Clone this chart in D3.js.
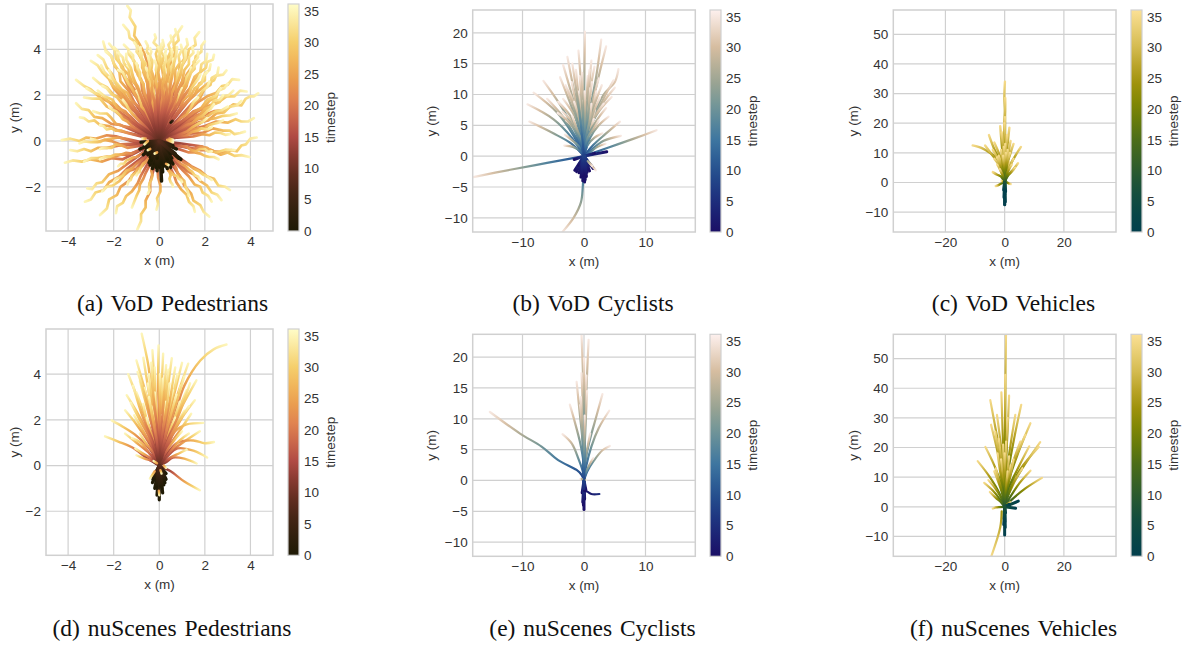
<!DOCTYPE html>
<html>
<head>
<meta charset="utf-8">
<script src="https://cdn.jsdelivr.net/npm/d3@7"></script>
<style>
body { margin: 0; background: #fff; }
text { font-family: "Liberation Sans", Arial, sans-serif; fill: #333; }
.caption { font-family: "Liberation Serif", "Times New Roman", serif; fill: #111; }
</style>
</head>
<body>
<svg id="chart" width="1183" height="648"></svg>
<script>
// every track is x,y,x,y... in metres, starting after the origin, last pair is t=35
var vodPedTracks = [
[-.15,1.2,-.4,2.6,-.45,3.2,-.65,3.8,-.85,4.2,-1.1,4.6,-1.05,5,-1.3,5.4,-1.25,5.7,-1.4,5.9],
[-.2,1.2,-.5,2.6,-.6,3.2,-.95,3.9,-1,4.3,-1.3,4.5,-1.35,4.8,-1.58,5.07],
[-.05,1.3,-.15,2.8,-.05,3.4,-.15,3.8,-.05,4.1,-.25,4.3,-.15,4.5,-.2,4.65],
[.2,1.3,.4,2.8,.55,3.4,.7,3.9,.65,4.2,.85,4.4,.8,4.7,1,5],
[.15,1.2,.3,2.6,.5,3.2,.45,3.7,.65,4.1,.6,4.5,.75,4.7,.7,4.88],
[.3,1.2,.8,2.6,.95,3.2,1.25,3.7,1.3,4,1.6,4.2,1.55,4.5,1.75,4.75],
[.4,1.1,1,2.4,1.2,2.9,1.55,3.4,1.6,3.7,1.85,3.9,1.85,4.15,2,4.35],
[.5,1,1.2,2.1,1.55,2.6,1.8,3,2.05,3.2,2.1,3.45,2.35,3.55,2.4,3.76],
[.6,.9,1.4,1.9,1.8,2.25,2.1,2.5,2.4,2.65,2.5,2.85,2.8,2.9,2.95,3.08],
[.7,.8,1.7,1.7,2.1,1.95,2.5,2.1,2.75,2.4,3,2.45,3.2,2.7,3.5,2.67],
[.8,.6,1.7,1.3,2.2,1.55,2.6,1.7,2.95,1.95,3.3,1.95,3.55,2.2,3.83,2.16],
[.9,.6,1.9,1.1,2.4,1.3,2.9,1.35,3.25,1.6,3.6,1.55,3.8,1.85,4,1.95,4.15,1.95,4.34,2.08],
[1,.4,2,.65,2.5,.85,3,.8,3.35,.95,3.6,.85,3.9,.85,4.15,1],
[.9,.3,1.9,.35,2.35,.55,2.8,.45,3.1,.45,3.3,.3,3.55,.35,3.76,.41],
[.9,-.1,1.9,-.25,2.4,-.45,2.9,-.5,3.15,-.4,3.4,-.45,3.6,-.2,3.8,-.15,4,.1,4.27,.15],
[.9,-.2,1.8,-.4,2.3,-.4,2.7,-.6,3,-.5,3.3,-.65,3.6,-.62,3.95,-.7],
[.7,-.6,1.4,-1.1,1.8,-1.3,2.1,-1.55,2.4,-1.65,2.6,-1.95,2.9,-2,3.1,-2.14],
[.6,-.7,1.2,-1.3,1.5,-1.45,1.8,-1.75,2.1,-1.95,2.3,-2.25,2.55,-2.35,2.73,-2.58],
[.5,-.7,1.05,-1.3,1.3,-1.55,1.55,-1.9,1.8,-2,1.9,-2.25,2.15,-2.4,2.3,-2.65],
[.4,-.8,.95,-1.6,1.1,-1.95,1.4,-2.3,1.5,-2.6,1.8,-2.8,1.95,-3.1,2.19,-3.3],
[.3,-.8,.65,-1.5,.75,-1.8,.95,-2.1,1.2,-2.35,1.3,-2.65,1.5,-2.85,1.56,-3.09],
[-.1,-.9,-.05,-1.6,.05,-1.95,.05,-2.2,-.1,-2.5,-.05,-2.75,-.12,-3],
[-.15,-.9,-.4,-1.8,-.4,-2.2,-.6,-2.6,-.6,-2.9,-.8,-3.2,-.8,-3.5,-.96,-3.86],
[-.4,-.8,-.8,-1.5,-.95,-1.85,-1.2,-2.2,-1.45,-2.4,-1.6,-2.7,-1.85,-2.85,-1.9,-3.15],
[-.5,-.7,-1.1,-1.4,-1.35,-1.75,-1.7,-2,-1.85,-2.35,-2.2,-2.55,-2.3,-2.95,-2.6,-3.23],
[-.6,-.6,-1.4,-1.2,-1.75,-1.55,-2.2,-1.8,-2.45,-2.15,-2.8,-2.25,-3,-2.55,-3.26,-2.65],
[-.7,-.5,-1.4,-1,-1.8,-1.3,-2.2,-1.45,-2.5,-1.8,-2.75,-1.85,-2.95,-2.1,-3.16,-2.07],
[-.8,-.4,-1.6,-.8,-2.1,-.75,-2.5,-.9,-3,-.8,-3.4,-.9,-3.8,-.85,-4.14,-.95],
[-.9,-.1,-1.9,.2,-2.3,.25,-2.8,.1,-3.2,.15,-3.5,0,-3.9,.1,-4.28,.04],
[-.9,-.15,-1.8,-.2,-2.3,-.3,-2.7,-.3,-3,-.45,-3.3,-.35,-3.6,-.45,-3.9,-.4],
[-.8,.3,-1.7,.7,-2.1,.75,-2.5,1,-2.85,1.05,-3.1,1.35,-3.4,1.4,-3.65,1.65],
[-.9,.25,-1.8,.45,-2.2,.65,-2.6,.7,-2.85,.9,-3.1,.85,-3.3,1,-3.48,1.03],
[-.7,.5,-1.5,1.1,-1.85,1.35,-2.2,1.7,-2.6,1.9,-3,2.25,-3.3,2.4,-3.65,2.67],
[-.6,.7,-1.3,1.6,-1.65,1.9,-2,2.3,-2.2,2.7,-2.5,3,-2.7,3.3,-3,3.5],
[-.5,.9,-1,1.9,-1.35,2.35,-1.6,2.9,-1.95,3.25,-2.1,3.7,-2.35,3.95,-2.46,4.34],
[-.45,.9,-.95,1.9,-1.2,2.4,-1.5,2.8,-1.6,3.25,-1.9,3.6,-1.95,3.95,-2.2,4.25],
[-.5,.8,-1.1,1.7,-1.35,2.2,-1.7,2.6,-1.75,3,-2,3.4,-2.1,3.7,-2.35,3.9],
[-.55,.7,-1.2,1.6,-1.6,2,-1.9,2.5,-2.05,2.9,-2.3,3.2,-2.45,3.55,-2.7,3.75],
[-.55,.6,-1.1,1.4,-1.5,1.8,-1.8,2.2,-2.05,2.45,-2.2,2.8,-2.4,3,-2.55,3.3],
[-.4,.9,-.9,2,-1.2,2.4,-1.35,2.9,-1.65,3.2,-1.8,3.6,-1.8,3.9,-2,4.1],
[-.35,.9,-.85,1.9,-1,2.4,-1.3,2.8,-1.35,3.15,-1.55,3.4,-1.6,3.65,-1.8,3.85],
[-.3,1,-.75,2.2,-.8,2.7,-1.05,3.1,-1.1,3.5,-1.35,3.8,-1.35,4,-1.55,4.2],
[-.25,1,-.65,2,-.7,2.5,-.95,2.9,-.95,3.3,-1.15,3.5,-1.15,3.75,-1.3,3.9],
[-.2,1.1,-.5,2.3,-.55,2.8,-.75,3.2,-.75,3.6,-1,3.9,-.95,4.1,-1.1,4.3],
[-.2,1,-.4,2.1,-.55,2.6,-.65,3.1,-.6,3.4,-.8,3.6,-.75,3.8,-.85,4],
[-.1,1.1,-.35,2.3,-.3,2.9,-.45,3.3,-.4,3.7,-.55,3.9,-.5,4.15,-.6,4.35],
[-.1,1,-.25,2.1,-.2,2.6,-.35,3.1,-.3,3.5,-.42,3.7,-.35,3.9,-.4,4.05],
[0,1.1,-.1,2.2,.02,2.6,-.1,3,.05,3.35,-.05,3.6,.05,3.85,-.05,4.1],
[.05,1.1,.05,2.3,.18,2.8,.1,3.3,.2,3.7,.08,3.9,.2,4.15,.15,4.4],
[.1,1,.15,2.1,.1,2.55,.25,3,.2,3.35,.35,3.55,.25,3.8,.3,4],
[.1,1.2,.25,2.5,.4,3,.3,3.5,.5,3.9,.4,4.2,.55,4.4,.5,4.6],
[.25,1,.5,2.1,.7,2.6,.7,3.1,.9,3.4,.85,3.7,1,4,.95,4.2],
[.25,1.1,.6,2.3,.85,2.8,.9,3.3,1.1,3.6,1.05,3.9,1.25,4.2,1.2,4.45],
[.3,1,.75,2.1,1,2.6,1.1,3.1,1.3,3.35,1.3,3.65,1.5,3.85,1.45,4.1],
[.4,.9,.9,1.9,1.2,2.4,1.3,2.9,1.55,3.15,1.5,3.45,1.7,3.65,1.7,3.9],
[.45,.9,1,1.9,1.35,2.3,1.55,2.8,1.8,3,1.85,3.35,2.05,3.5,2.1,3.8],
[.5,.8,1.2,1.7,1.55,2,1.75,2.5,2,2.65,2,2.95,2.2,3.1,2.25,3.35],
[.6,.7,1.4,1.6,1.8,1.9,2,2.3,2.25,2.45,2.3,2.75,2.55,2.9,2.6,3.2],
[.7,.6,1.5,1.3,1.95,1.45,2.2,1.75,2.5,1.9,2.6,2.2,2.85,2.3,3,2.5],
[.8,.5,1.6,1.1,2.05,1.3,2.4,1.6,2.65,1.7,2.8,1.95,3.05,2,3.25,2.2],
[.7,.4,1.4,.95,1.75,1.1,2,1.4,2.25,1.5,2.4,1.75,2.65,1.8,2.8,2],
[.8,.4,1.7,.8,2.15,.9,2.5,1.2,2.85,1.25,3.1,1.5,3.4,1.55,3.6,1.75],
[.75,.3,1.6,.65,1.9,.85,2.2,.95,2.5,1,2.8,1.1,3.1,1.12,3.4,1.2],
[.7,.35,1.4,.75,1.7,.95,2,1,2.3,1.2,2.5,1.3,2.75,1.35,3,1.5],
[.7,.25,1.35,.45,1.7,.55,2,.55,2.2,.7,2.4,.75,2.6,.8,2.8,.9],
[.8,.15,1.5,.2,1.9,.3,2.2,.25,2.45,.37,2.7,.35,2.9,.27,3.1,.3],
[.6,.35,1.2,.7,1.45,.8,1.7,1,1.9,1.1,2.1,1.3,2.25,1.4,2.4,1.6],
[.6,.15,1.2,.25,1.45,.4,1.7,.45,1.85,.55,2,.5,2.15,.52,2.3,.6],
[-.7,.4,-1.4,.95,-1.7,1.1,-2,1.35,-2.3,1.5,-2.6,1.85,-2.95,1.85,-3.3,1.9],
[-.65,.45,-1.3,1.1,-1.6,1.3,-1.9,1.6,-2.2,1.7,-2.5,2,-2.85,2.1,-3.2,2.3],
[-.5,.6,-1.1,1.3,-1.4,1.55,-1.7,1.9,-2,2,-2.3,2.35,-2.6,2.5,-2.9,2.75],
[-.5,.55,-1.1,1.1,-1.35,1.4,-1.6,1.6,-1.85,1.9,-2.1,2.05,-2.3,2.3,-2.5,2.4],
[-.4,.7,-.9,1.5,-1.2,1.75,-1.4,2.1,-1.65,2.25,-1.85,2.5,-2,2.65,-2.2,2.8],
[-.35,.7,-.8,1.6,-1,1.9,-1.2,2.3,-1.35,2.5,-1.5,2.8,-1.6,3,-1.8,3.1],
[-.3,.8,-.65,1.7,-.8,2,-.95,2.4,-1.1,2.6,-1.2,2.9,-1.25,3.15,-1.4,3.3],
[-.2,.85,-.45,1.7,-.65,2.1,-.7,2.5,-.85,2.7,-.85,3,-.95,3.2,-1,3.4],
[-.1,.8,-.3,1.6,-.28,2,-.4,2.4,-.4,2.6,-.5,2.8,-.5,3,-.6,3.2],
[-.05,.9,-.1,1.8,-.05,2.2,-.15,2.6,-.08,2.85,-.15,3.1,-.12,3.3,-.2,3.5],
[.05,.8,.1,1.7,.2,2.1,.15,2.5,.25,2.7,.2,2.9,.28,3.1,.2,3.3],
[.15,.9,.3,1.8,.38,2.25,.45,2.7,.55,2.95,.5,3.2,.62,3.4,.6,3.6],
[.2,.85,.5,1.7,.55,2.1,.75,2.5,.78,2.75,.85,3,.98,3.2,1,3.4],
[.3,.8,.65,1.6,.9,2,1,2.3,1.15,2.5,1.2,2.8,1.35,3,1.4,3.2],
[.4,.7,.9,1.4,1.05,1.75,1.3,2,1.4,2.3,1.55,2.5,1.7,2.7,1.8,2.9],
[.55,.6,1.1,1.2,1.35,1.4,1.6,1.7,1.75,1.95,1.9,2.2,2.1,2.35,2.2,2.6],
[-.7,.3,-1.3,.6,-1.6,.65,-1.9,.75,-2.1,1,-2.3,1.2,-2.6,1.2,-2.9,1.3],
[-.8,.2,-1.4,.35,-1.65,.45,-1.9,.45,-2.1,.55,-2.3,.5,-2.45,.65,-2.6,.7],
[-.65,.3,-1.2,.65,-1.4,.85,-1.6,.95,-1.75,1.15,-1.9,1.3,-2.05,1.35,-2.2,1.5],
[-.8,-.05,-1.5,.1,-1.8,.15,-2.1,.1,-2.4,.05,-2.6,-.05,-2.8,.05,-3,.1],
[-.9,-.1,-1.7,-.15,-2.05,-.02,-2.4,.05,-2.7,-.05,-3,-.05,-3.3,-.02,-3.5,-.1],
[-.8,-.2,-1.4,-.3,-1.65,-.2,-1.9,-.15,-2.1,-.3,-2.3,-.3,-2.45,-.3,-2.6,-.35],
[.8,-.2,1.5,-.35,1.8,-.25,2.1,-.3,2.3,-.45,2.5,-.5,2.9,-.38,3.3,-.4],
[.7,-.3,1.3,-.5,1.55,-.5,1.8,-.55,2,-.65,2.2,-.7,2.4,-.7,2.6,-.8],
[.7,-.2,1.2,-.25,1.4,-.4,1.6,-.45,1.8,-.35,2,-.35,2.15,-.47,2.3,-.45],
[.6,-.6,1.1,-.95,1.3,-1.05,1.5,-1.2,1.7,-1.3,1.9,-1.45,2.1,-1.55,2.3,-1.7],
[.5,-.6,.95,-1,1.15,-1.1,1.3,-1.25,1.45,-1.35,1.55,-1.5,1.7,-1.55,1.8,-1.7],
[.4,-.6,.75,-1.2,.8,-1.4,.95,-1.6,1.1,-1.75,1.15,-2,1.25,-2.2,1.3,-2.4],
[.2,-.8,.4,-1.3,.5,-1.35,.65,-1.5,.78,-1.52,.85,-1.65,.95,-1.7,1,-1.8],
[.2,-.8,.35,-1.2,.45,-1.35,.5,-1.5,.45,-1.65,.5,-1.8,.58,-1.9,.6,-2],
[-.2,-.8,-.35,-1.3,-.3,-1.5,-.35,-1.7,-.43,-1.85,-.45,-2,-.42,-2.15,-.5,-2.3],
[-.3,-.8,-.6,-1.4,-.7,-1.65,-.85,-1.9,-.88,-2.15,-1,-2.4,-1.1,-2.65,-1.2,-2.9],
[-.55,-.7,-1,-1.2,-1.3,-1.3,-1.55,-1.5,-1.75,-1.75,-2.05,-1.95,-2.3,-2,-2.5,-2.2],
[-.5,-.6,-1,-1,-1.2,-1.2,-1.45,-1.3,-1.6,-1.5,-1.75,-1.6,-1.9,-1.65,-2,-1.8],
[-.4,-.7,-.75,-1.1,-.95,-1.22,-1.05,-1.4,-1.2,-1.5,-1.25,-1.7,-1.35,-1.75,-1.4,-1.9],
[-.35,-.6,-.6,-.9,-.72,-1,-.8,-1.15,-.85,-1.25,-.85,-1.35,-.95,-1.4,-1,-1.5],
[-.7,-.35,-1.4,-.6,-1.7,-.6,-2,-.7,-2.3,-.68,-2.7,-.75,-3,-.75,-3.3,-.9],
[-.7,-.3,-1.2,-.55,-1.45,-.52,-1.7,-.6,-1.95,-.6,-2.2,-.7,-2.4,-.7,-2.6,-.8],
[-.6,-.45,-1,-.7,-1.15,-.72,-1.3,-.8,-1.45,-.85,-1.55,-1,-1.7,-1,-1.8,-1.1],
[-.1,.9,-.3,1.6,-.22,1.9,-.25,2.2,-.33,2.4,-.3,2.6],
[.1,.8,.25,1.4,.33,1.7,.4,2,.32,2.25,.35,2.5],
[.3,.7,.55,1.3,.75,1.5,.85,1.8,.88,2.05,1,2.3],
[-.3,.7,-.6,1.3,-.78,1.5,-.85,1.8,-.9,2,-1,2.2],
[-.5,.5,-.95,.95,-1.15,1.15,-1.35,1.4,-1.45,1.6,-1.6,1.8],
[.5,.5,.95,1,1.2,1.15,1.35,1.4,1.5,1.7,1.7,1.9],
[.7,.2,1.2,.4,1.45,.6,1.7,.75,1.9,.83,2.1,1],
[-.05,1,-.1,2,.05,2.5,-.05,3,.08,3.5,0,3.9,.1,4.25],
[.2,1,.45,2,.5,2.5,.6,3,.65,3.4,.75,3.8,.78,4.1],
[-.25,1,-.5,2,-.5,2.5,-.7,3,-.7,3.4,-.85,3.8,-.82,4.1],
[.3,1,.7,1.9,.75,2.4,.95,2.9,1,3.3,1.15,3.6,1.15,3.95],
[-.35,.9,-.75,1.8,-.95,2.3,-1.15,2.8,-1.25,3.2,-1.45,3.55,-1.45,3.8],
[.35,.9,.85,1.7,1.05,2.2,1.25,2.6,1.4,3,1.55,3.3,1.75,3.5],
[.12,1,.35,2,.3,2.5,.4,3,.4,3.4,.55,3.7,.55,4],
[.5,.8,1,1.5,1.3,1.8,1.55,2.3,1.85,2.5,1.95,2.85,2.1,3],
[-.5,.7,-1,1.3,-1.3,1.7,-1.55,2.1,-1.8,2.35,-2.05,2.75,-2.2,3.1],
[-.15,.9,-.2,1.7,-.32,2.15,-.3,2.6,-.45,3,-.4,3.3,-.5,3.7],
[.05,.9,.2,1.8,.12,2.3,.25,2.8,.18,3.2,.3,3.5,.25,3.8],
[.6,.6,1.2,1,1.5,1.25,1.85,1.45,2.1,1.8,2.45,1.95,2.7,2.3],
[-.6,.5,-1.2,.95,-1.5,1.3,-1.85,1.45,-2.05,1.8,-2.4,1.95,-2.7,2.2]
];
var vodPedPasts = [
[-.8,-.05],[-.85,-.35],[-.6,-.45],[-.7,-.6],[-.45,-.95],[-.3,-1.2],[-.1,-1.3],[.1,-1.75],[.15,-1.35],[.35,-1.2],[.5,-1.15],[.6,-1],[.85,-.75],[.7,-.55],[.5,-.9],[.2,-1.1],[-.2,-1],[-.4,-.7],[.4,-.5],[.6,-.2],[-.5,-.2],[-.25,-.5],[0,-.9],[.2,-.7],
[-.4,-1.05],[-.35,-.85],[-.15,-1.15],[.02,-1.15],[.3,-1.05],[.45,-1],[.55,-.75],[.35,-.8],[.1,-1],[-.1,-.75],[-.3,-.3],[.3,-.25],[.5,-.55],[-.5,-.6],[-.55,-.35],[-.65,-.2],[.75,-.35],[.95,-.8]
];
var vodPedSlow = [
[-.6,.1,-.75,.1],[-.5,0,-.65,-.15],[.45,.1,.6,.05],[.35,.05,.6,-.05],[-.4,-.35,-.5,-.4],[.3,-1,.4,-1.05],[-.1,-.5,-.2,-.55]
];
var vodPedSpecks = [[.5,.8,.58,.88]];

var vodCycTracks = [
[0,5,.05,12,.15,20.2],[.7,6,2,13,2.8,18.9],[.8,6,2.4,13,3.6,17.8],[-.2,6,-.5,12,-.9,17.1],[-.6,6,-1.7,11,-2.7,16.1],[-.7,5,-2,10,-3.4,14.8],
[1,5,3.2,10,5,12,5.6,14.1],[-1,5,-2.4,9,-3.9,12.8],[-1.4,4,-4,8.5,-6.6,12.2],[1,5,3,9,4.8,12.3],[1,4.5,3,8.5,5,11.1],[-1.8,3.5,-4.5,7.2,-8.2,10.3],
[.9,4.5,2.6,7.5,4.5,9.6],[-2,3,-5,6,-9.2,8.4],[-1.4,3.2,-3.5,6.5,-6,9.3],[1,3,2.4,5,4,6.4],[-2,2,-5,3.7,-8.9,5.6],[1.5,1.8,3.5,3.6,5.85,5.6],
[1.3,1.1,3.2,2.5,6,3.3],[4,1.4,8,2.8,11.8,4.2],[-6,-1.1,-12,-2.2,-18,-3.4],[-.2,-5,-.5,-7.5,-1.7,-10,-3.6,-12.4],
[.3,6,.8,11,1.2,15.5],[-.2,5,-.9,10,-1.3,14],[.4,5,.9,10,1.7,14.5],[-.1,5,-.2,10,-.3,13.5],[.5,5,1.4,9,2.4,12.6],[.1,4.5,.4,9,.6,13],[-.5,4,-1.2,8,-2,12],
[-.4,4,-1,7,-2.6,10.8],[.5,4.5,1.3,7.5,2,10.5],[-.5,4,-1.8,7,-3.4,9.3],[.2,4,.6,7.5,.9,11],[-.1,4,-.5,7.5,-1,10.5],[.6,4,1.8,6.5,3.2,8.5],[-.6,3.2,-1.9,5.5,-3.5,7.2],
[.2,3,.5,6,.4,9],[-.2,3,-.3,6,-.4,9],[.5,3,1.2,5.5,1.8,7.5],[-.5,2.5,-1.6,4.5,-2.9,5.8],[.4,2.5,1.1,4.5,1.6,6],[-.2,2.5,-.6,4.5,-.9,6.5],[.6,1.8,1.7,3,3,3.7],
[-.5,1.2,-1.6,2.3,-3.1,3.5],[-.6,.8,-1.8,1.5,-3.2,1.7],[.9,.6,2.2,1.5,3.5,2],[.1,1.5,.3,2.7,.6,3],[-.1,1.5,-.3,2.7,-.4,3.2],
[.2,5,.6,10,.9,14],[-.1,5,-.4,9,-.7,13],[.3,4,.8,8,1.3,12],[-.3,4,-.8,8,-1.5,12.5],[.6,4,1.6,8,2.9,11.5],[-.6,4,-1.7,8,-3,11.5],[.5,4,1.5,7,2.6,9.5],[-.8,3.5,-2.2,6.5,-4.2,8.8],[.8,3.5,2.2,6,3.6,7.8],[-.9,3,-2.4,5.5,-4.3,7],[.1,3.5,.2,7,.1,10.5],[-.3,3.5,-.9,6.5,-1.6,8.8],[.3,3,.9,5.5,1.2,8.5],[-.4,2.5,-1.2,4.5,-1.9,6.5],[.6,3,1.6,4.5,2.4,5.8],[-.5,5,-1.3,11,-1.9,15]
];
var vodCycPasts = [
[3.7,.7],[1.7,.45],[-1.6,-.55],[-1.5,-2.3],[-1.2,-2.5],[-.9,-1.5],[-.6,-2],[.6,-1.7],[1,-1.5],[1.5,-2],[.5,-2.6],[.1,-4.2],[-.2,-4],[.2,-3.8],[-.1,-3.2],[.2,-2.9],[-.4,-2.8],[-.3,-1.2],[.3,-1.2],[-.8,-2.7],[.9,-2.4],[-.5,-3.4],[.4,-3.3]
];
var vodCycSlow = [[.8,-1,1.9,-2.3],[.6,-.8,1.3,-1.6]];

var vodVehTracks = [
[.1,12,.1,24,-.1,29,.1,34],[.1,10,-.1,20,.2,25,.2,28.5],[.1,8,-.1,16,.1,22],[-.1,8,.1,15,-.1,20],[-.4,6,-5,10,-7.5,11.5,-10.8,12.5],[-1,6,-3.6,11.5,-5.3,16],
[-.4,7,-1,13,-1.5,19],[.4,7,1,13,1.6,18.5],[.8,6,2,10,3,13],[1,4,3,8,5.5,12],[-1,5,-4,9,-6.6,12.5],[-.6,6,-2,10,-3.5,13.5],[-.8,5,-2.3,8,-4,11],
[-.7,3.5,-2,6,-3.5,8],[-1.2,2,-2.5,2.6,-4,3.5],[-.6,-.1,-1.8,-.7,-3,-1.2],[1.2,2.5,3,4.5,4.5,6.5],[.8,3.5,2,6,3,8],[.7,2,2.2,3.5,3.5,5],[-.2,8,-.6,13,-1,17],
[.2,7,.5,12,.8,16],[.6,6,1.3,10,2,14],[-.6,4,-1.3,7,-2,9],[-.7,2.5,-1.6,4.5,-2.5,6],[.5,3,1,5,1.5,7],[.1,5,.2,9,.2,13],[-.1,5,-.2,9,-.3,12],[.4,.2,1.2,-.2,2,-.5],[-.4,.2,-.8,.5,-1,.5],
[.3,4,.8,7,1,11],[-.3,4,-.7,7,-1.2,11],[.4,4,1,7,1.8,10],[-.5,3,-1.5,6,-2.6,8.5],[.1,4,.2,7,.4,10],[-.1,4,-.3,6,-.5,9],[.6,2.5,1.5,4.5,2.4,6],[-.5,2,-1,3.2,-1.6,4.5]
];
var vodVehPasts = [[0,-7.5],[.2,-6.5],[-.2,-5],[0,-4],[.3,-3],[-.3,-2.5]];

var nuPedTracks = [
[-.1,1.5,-.4,3.8,-.5,4.5,-.77,5.77],[.3,1,.7,2.3,1.1,3.5,1.8,4.6,2.4,5.1,2.95,5.3],[0,1.8,-.05,3.5,-.03,5.26],[.05,1.6,.1,3.3,.17,4.9],[.15,1.5,.35,3.2,.55,4.7],
[-.2,1.6,-.6,3.2,-1,4.6],[-.15,1.6,-.45,3.2,-.7,4.72],[-.1,1.7,-.2,3.4,-.3,5.05],[.25,1.5,.65,3.1,1,4.5],[.3,1.5,.8,3.1,1.27,4.46],[-.3,1.3,-.85,2.7,-1.36,4],
[.35,1.3,1,2.6,1.63,3.73],[-.35,1.1,-.9,2.2,-1.43,3.08],[.4,1,1,2.1,1.56,2.86],[-.4,.9,-1,1.8,-1.5,2.42],[.4,.8,.95,1.6,1.4,2.27],[.35,.8,.7,1.5,1.2,1.8,1.93,1.87],
[-.4,.7,-1,1.3,-1.6,1.7,-2.09,1.98],[-.5,.3,-1.2,.8,-1.8,1.05,-2.38,1.28],[.5,.6,1.1,1.05,1.78,1.5],[.4,.6,.8,1,1.5,1.1,2,.98,2.4,1.03],[.35,.4,.8,.75,1.5,.65,2.1,.35],
[.3,.15,.6,.35,1.1,.3,1.64,.09],[.2,-.1,.5,-.25,1.1,-.7,1.78,-1.08],[-.4,.5,-1,1,-1.5,1.4],[-.3,.2,-.65,.3,-1,.45],
[.1,1.4,.25,2.8,.4,4.2],[-.05,1.4,-.15,2.8,-.2,4.3],[-.1,1.3,-.3,2.7,-.45,4],[.2,1.3,.5,2.6,.8,4],[-.2,1.2,-.5,2.4,-.85,3.7],[.25,1.2,.6,2.3,.95,3.5],
[.05,1.2,.1,2.5,.15,3.8],[-.15,1.2,-.4,2.3,-.65,3.4],[.3,1.1,.75,2.2,1.2,3.3],[-.25,1.1,-.6,2.1,-1,3.2],[.15,1.1,.35,2.1,.6,3.3],[-.05,1.1,-.1,2.1,-.2,3.2],
[.25,1,.6,1.9,.9,2.8],[-.2,.95,-.5,1.8,-.7,2.7],[.1,1,.2,1.9,.3,2.8],[-.1,.95,-.2,1.8,-.35,2.6],[.3,.9,.7,1.7,1.1,2.4],[-.3,.8,-.7,1.5,-1.1,2.2],
[.2,.8,.45,1.5,.7,2.1],[-.15,.8,-.4,1.5,-.55,2.1],[.05,.8,.1,1.5,.1,2.2],[.3,.6,.65,1.1,1,1.5],[-.3,.6,-.6,1,-.85,1.4],[.4,.3,.9,.55,1.2,.7],[-.35,.3,-.75,.55,-1.05,.75],
[.08,1.5,.2,3,.3,4.4],[-.08,1.5,-.25,3,-.35,4.5],[.18,1.4,.45,2.8,.7,4.3],[-.22,1.4,-.55,2.8,-.95,4.1],[.28,1.3,.7,2.6,1.1,3.9],[.02,1.4,.02,2.8,.03,4],[-.12,1.3,-.35,2.4,-.5,3.6],[.12,1.3,.3,2.4,.45,3.6],[.35,1.1,.85,2.2,1.35,3.6],[-.3,1.1,-.75,2.2,-1.15,3.5],[.22,1.1,.5,2.2,.75,3.1],[-.12,1.1,-.3,2.1,-.45,3],[.35,1,.85,1.9,1.3,2.6],[-.32,1,-.8,1.9,-1.25,2.75],[.4,.5,.9,1.1,1.3,1.4],[-.4,.5,-.8,1,-1.2,1.2]
];
var nuPedPasts = [
[0,-1.5],[-.3,-.75],[.3,-.6],[-.2,-1],[.15,-1.2],[.05,-.9],[-.25,-.5],[.3,-.35],[-.1,-1.3],[.2,-.85],[-.15,-.7],[.1,-.5],[-.28,-.6],[.25,-.75],[-.12,-.95],[.12,-1]
];
var nuPedSlow = [[-.2,-.25,-.41,-.57],[.05,-.2,.1,-.35],[-.1,.1,-.25,.2],[.2,0,.3,-.1],[-.02,-1.1,0,-1.3]];

var nuCycTracks = [
[-.4,.9,-1.2,1.7,-4.2,3.3,-6.9,5.5,-10.4,7.6,-15.3,11.1],[.5,1.4,1.6,3.2,3,4.9,4.2,5.6],[.4,2.5,1.2,5.5,2.4,8.5,4.1,11.3],[.2,3,.8,6,1.9,10,3,14],
[-.1,3,-.6,6,-1.5,9.5,-2.3,12.3],[-.2,1.5,-.9,3.5,-2,6,-3.5,7.5],[-.2,6,-.7,11,-1.2,16],[0,7,-.1,15,-.4,23.6],[.1,7,.4,15,.75,22.8],[0,6,.2,12,.4,17],
[-.1,6,-.2,12,-.4,17.4],[0,6,0,13,0,19.8],[-.1,4,-.3,8,-.6,12.2],[.2,3,.6,5.5,1,7.6],[.4,1.5,.9,2.6,1.5,3.6],[.1,5,.3,10,.5,14.5],[-.1,5,-.3,9,-.5,13.5],[0,4,.1,7,.1,10.5]
];
var nuCycPasts = [[0,-4.7],[-.2,-3.5],[.1,-3],[-.3,-2],[.3,-1.5],[-.1,-4]];
var nuCycSlow = [[-.3,.2,-.6,.2],[.3,.1,.4,.1]];
var nuCycBranch = [[0,-1.7,.5,-1.8,1.2,-2.2,2.5,-2.2]];

var nuVehTracks = [
[.1,15,.2,35,.45,58],[.1,12,.15,30,.2,44.5],[-.5,12,-3,26,-4.85,36],[-.2,12,-.7,26,-1.1,38.6],[.3,12,1,26,1.5,37.5],[.9,10,3.2,23,5.6,34.4],[1.2,8,4.5,18,8.7,28.2],
[-.5,9,-2.5,19,-4.6,27.7],[2,6,6,13,12,21.8],[-1,7,-3.5,14,-6.5,20.2],[-1.5,4,-5,10,-9.1,15.4],[1.6,5.5,5.5,13,11.5,20.2],[1.2,6,4.5,13,8.3,20.4],[2,3.5,5,8,8.7,12.2],
[2.5,2.5,7,6.2,12.6,9.75],[-1.6,2.5,-4,5.5,-6.9,8.1],[-.3,10,-1.3,21,-2.6,31],[.2,10,.6,20,1,30],[.5,10,2,21,3.6,31],[-.5,8,-1.8,17,-3.2,25.4],[1,8,3.5,16,7,24.3],[.8,7,2.8,15,5.3,22],
[-.3,8,-1,15,-2,23],[-.7,4,-2,8,-3.5,12],[-1.1,3,-3,6,-5.5,9],[-1.2,1.5,-3,3,-5,5],[.5,5,1.2,9,2,14],[1,3.5,2.4,6.5,4,10],[1.2,4.5,3.5,9,6,13],[-3,-.2,-3.5,-.4,-4,-.6],[.7,.8,1.4,1.2,2,1.5],
[-.1,7,-.3,14,-.5,21],[.1,7,.3,14,.5,22],[0,6,0,12,0,18],[-.2,5,-.7,10,-1.2,16],[.3,5,.9,11,1.5,17],[.6,5,1.8,10,3,16],[-.4,5,-1.4,11,-2.4,18],[-.6,4,-1.8,8.5,-3,13],[.2,4,.6,8,1,12]
];
var nuVehPasts = [[4.6,1.9],[3.7,-.5],[0,-9.5],[.2,-7],[-.2,-4],[.3,-2],[-.3,-6],[1.5,.8],[.1,-5]];
var nuVehSlow = [[-1,-1.5,-1.5,-7,-4.5,-16.7]];

// colormaps, low to high timestep
var lajolla = ["#1e1a05", "#3c2413", "#6b3024", "#b04a44", "#dc7a50", "#eea64f", "#f5cf6c", "#fffdc8"];
var lapaz = ["#1b0f66", "#1d2d7c", "#24508f", "#3e76a0", "#6d9498", "#a3a792", "#d6bda0", "#fdf0ee"];
var bamako = ["#023f4d", "#0d4a42", "#2b5a2e", "#4c6d18", "#778402", "#a8950f", "#d4bb50", "#fbe095"];
var cmapKnots = [0, 5, 10, 15, 20, 25, 30, 36];

var xTicksPed = [-4, -2, 0, 2, 4], yTicksPed = [-2, 0, 2, 4];
var xTicksCyc = [-10, 0, 10], yTicksCyc = [-10, -5, 0, 5, 10, 15, 20];
var xTicksVeh = [-20, 0, 20], yTicksVeh = [-10, 0, 10, 20, 30, 40, 50];
var barTicks = [0, 5, 10, 15, 20, 25, 30, 35];

var captions = ["(a) VoD Pedestrians", "(b) VoD Cyclists", "(c) VoD Vehicles", "(d) nuScenes Pedestrians", "(e) nuScenes Cyclists", "(f) nuScenes Vehicles"];

var svg = d3.select("#chart");
var defs = svg.append("defs");
var gradCount = 0;

function makeGradient(color, t0, t1, a, b) {
    // gradient along the chord of the track
    var id = "g" + (gradCount++);
    var g = defs.append("linearGradient").attr("id", id).attr("gradientUnits", "userSpaceOnUse")
        .attr("x1", a[0]).attr("y1", a[1]).attr("x2", b[0]).attr("y2", b[1]);
    for (var i = 0; i <= 6; i++) {
        g.append("stop").attr("offset", i / 6).attr("stop-color", color(t0 + (t1 - t0) * i / 6));
    }
    return "url(#" + id + ")";
}

function pairs(flat) {
    var out = [];
    for (var i = 0; i < flat.length; i += 2) out.push([flat[i], flat[i + 1]]);
    return out;
}

function drawPanel(p) {
    var x = d3.scaleLinear().domain(p.xlim).range([p.left, p.right]);
    var y = d3.scaleLinear().domain(p.ylim).range([p.bottom, p.top]);
    var color = d3.scaleLinear().domain(cmapKnots).range(p.cmap).interpolate(d3.interpolateRgb);
    var g = svg.append("g");

    // grid
    g.selectAll(".gx").data(p.xticks).enter().append("line")
        .attr("x1", x).attr("x2", x).attr("y1", p.top).attr("y2", p.bottom)
        .attr("stroke", "#d0d0d0").attr("stroke-width", 1.2);
    g.selectAll(".gy").data(p.yticks).enter().append("line")
        .attr("x1", p.left).attr("x2", p.right).attr("y1", y).attr("y2", y)
        .attr("stroke", "#d0d0d0").attr("stroke-width", 1.2);

    var clipId = "clip" + p.index;
    defs.append("clipPath").attr("id", clipId).append("rect")
        .attr("x", p.left).attr("y", p.top).attr("width", p.right - p.left).attr("height", p.bottom - p.top);
    var marks = g.append("g").attr("clip-path", "url(#" + clipId + ")").attr("fill", "none")
        .attr("stroke-linecap", "round").attr("stroke-linejoin", "round");

    var line = d3.line().x(function(d) { return x(d[0]); }).y(function(d) { return y(d[1]); })
        .curve(p.curve);

    function addTrack(pts, t0, t1, w) {
        var a = pts[0], b = pts[pts.length - 1];
        marks.append("path").attr("d", line(pts)).attr("stroke-width", w)
            .attr("stroke", makeGradient(color, t0, t1, [x(a[0]), y(a[1])], [x(b[0]), y(b[1])]));
    }

    p.tracks.forEach(function(t) { addTrack([[0, 0]].concat(pairs(t)), 8, 35, p.width); });
    p.pasts.forEach(function(s) { addTrack([s, [0, 0]], 0, 8, p.width + 0.8); });
    p.branches.forEach(function(t) { addTrack(pairs(t), 0, 5, p.width); });
    p.slow.forEach(function(t) { addTrack(pairs(t), 24, 35, p.width); });

    // frame
    g.append("rect").attr("x", p.left).attr("y", p.top).attr("width", p.right - p.left).attr("height", p.bottom - p.top)
        .attr("fill", "none").attr("stroke", "#d0d0d0").attr("stroke-width", 1.5);

    var xAxis = d3.axisBottom(x).tickValues(p.xticks).tickSize(0).tickPadding(5);
    var yAxis = d3.axisLeft(y).tickValues(p.yticks).tickSize(0).tickPadding(5);
    var ax = g.append("g").attr("transform", "translate(0," + p.bottom + ")").call(xAxis);
    var ay = g.append("g").attr("transform", "translate(" + p.left + ",0)").call(yAxis);
    [ax, ay].forEach(function(a) {
        a.select(".domain").remove();
        a.attr("font-family", null);
        a.selectAll("text").attr("font-size", 13.5).style("fill", "#333");
    });

    g.append("text").attr("x", (p.left + p.right) / 2).attr("y", p.bottom + 33.5).attr("text-anchor", "middle")
        .attr("font-size", 13.5).text("x (m)");
    g.append("text").attr("transform", "translate(" + p.ylabelX + "," + ((p.top + p.bottom) / 2) + ") rotate(-90)")
        .attr("text-anchor", "middle").attr("font-size", 13.5).text("y (m)");

    // colorbar
    var barY = d3.scaleLinear().domain([0, 36.1]).range([p.bottom, p.top]);
    var barGrad = "bar" + p.index;
    var bg = defs.append("linearGradient").attr("id", barGrad).attr("x1", 0).attr("x2", 0).attr("y1", 1).attr("y2", 0);
    d3.range(0, 37, 3).forEach(function(t) {
        bg.append("stop").attr("offset", t / 36).attr("stop-color", color(t));
    });
    g.append("rect").attr("x", p.barLeft).attr("y", p.top).attr("width", 11).attr("height", p.bottom - p.top)
        .attr("fill", "url(#" + barGrad + ")").attr("stroke", "#d0d0d0").attr("stroke-width", 1.2);
    var barAxis = d3.axisRight(barY).tickValues(barTicks).tickSize(0).tickPadding(5);
    var ac = g.append("g").attr("transform", "translate(" + (p.barLeft + 11) + ",0)").call(barAxis);
    ac.select(".domain").remove();
    ac.attr("font-family", null);
    ac.selectAll("text").attr("font-size", 13.5).style("fill", "#333");
    g.append("text").attr("transform", "translate(" + (p.barLeft + 46.5) + "," + ((p.top + p.bottom) / 2) + ") rotate(-90)")
        .attr("text-anchor", "middle").attr("font-size", 13.5).text("timestep");

    g.append("text").attr("class", "caption").attr("x", p.capX).attr("y", p.capY).attr("text-anchor", "middle")
        .attr("font-size", 23.5).attr("word-spacing", 2).text(captions[p.index]);
}

var panels = [
    { index: 0, tracks: vodPedTracks, pasts: vodPedPasts, slow: vodPedSlow, branches: vodPedSpecks, cmap: lajolla, xticks: xTicksPed, yticks: yTicksPed, xlim: [-4.97, 4.99], ylim: [-3.93, 5.98], left: 46, right: 273, top: 4, bottom: 231, ylabelX: 18.5, barLeft: 288, width: 2.7, curve: d3.curveLinear, capX: 172.5, capY: 311 },
    { index: 1, tracks: vodCycTracks, pasts: vodCycPasts, slow: vodCycSlow, branches: [], cmap: lapaz, xticks: xTicksCyc, yticks: yTicksCyc, xlim: [-18.1, 18.1], ylim: [-12.3, 23.7], left: 472.7, right: 695.3, top: 10, bottom: 232, ylabelX: 436, barLeft: 710, width: 2.2, curve: d3.curveCatmullRom, capX: 593, capY: 311 },
    { index: 2, tracks: vodVehTracks, pasts: vodVehPasts, slow: [], branches: [], cmap: bamako, xticks: xTicksVeh, yticks: yTicksVeh, xlim: [-37.6, 37.6], ylim: [-16.7, 58.2], left: 893.3, right: 1116, top: 10, bottom: 232, ylabelX: 857.5, barLeft: 1131, width: 2.4, curve: d3.curveCatmullRom, capX: 1013.5, capY: 311 },
    { index: 3, tracks: nuPedTracks, pasts: nuPedPasts, slow: nuPedSlow, branches: [], cmap: lajolla, xticks: xTicksPed, yticks: yTicksPed, xlim: [-4.97, 4.99], ylim: [-3.93, 5.98], left: 46, right: 273, top: 329, bottom: 555.3, ylabelX: 18.5, barLeft: 288, width: 2.4, curve: d3.curveCatmullRom, capX: 172, capY: 636 },
    { index: 4, tracks: nuCycTracks, pasts: nuCycPasts, slow: nuCycSlow, branches: nuCycBranch, cmap: lapaz, xticks: xTicksCyc, yticks: yTicksCyc, xlim: [-18.1, 18.1], ylim: [-12.3, 23.7], left: 472.7, right: 695.3, top: 334.3, bottom: 556.3, ylabelX: 436, barLeft: 710, width: 2.2, curve: d3.curveCatmullRom, capX: 592.5, capY: 636 },
    { index: 5, tracks: nuVehTracks, pasts: nuVehPasts, slow: nuVehSlow, branches: [], cmap: bamako, xticks: xTicksVeh, yticks: yTicksVeh, xlim: [-37.6, 37.6], ylim: [-16.7, 58.2], left: 893.3, right: 1116, top: 334.3, bottom: 556.3, ylabelX: 857.5, barLeft: 1131, width: 2.2, curve: d3.curveCatmullRom, capX: 1013.5, capY: 636 }
];

panels.forEach(drawPanel);
</script>
</body>
</html>
